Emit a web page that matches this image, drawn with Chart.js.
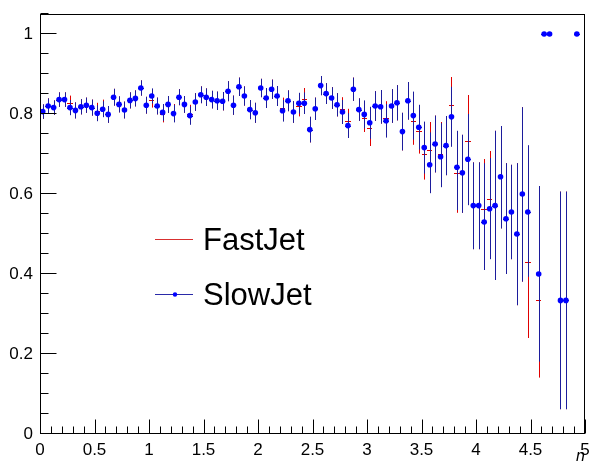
<!DOCTYPE html>
<html>
<head>
<meta charset="utf-8">
<script src="https://cdn.jsdelivr.net/npm/chart.js@4.4.1/dist/chart.umd.min.js"></script>
<style>
html,body{margin:0;padding:0;background:#fff;}
#wrap{width:590px;height:466px;}
</style>
</head>
<body>
<div id="wrap"><canvas id="effChart" width="590" height="466"></canvas></div>
<script>
// ---------------- data ----------------
const binWidth = 0.05;
const nBins = 100;

const xTicks = [0, 0.5, 1, 1.5, 2, 2.5, 3, 3.5, 4, 4.5, 5];
const xTickLabels = ["0", "0.5", "1", "1.5", "2", "2.5", "3", "3.5", "4", "4.5", "5"];
const yTicks = [0, 0.2, 0.4, 0.6, 0.8, 1];
const yTickLabels = ["0", "0.2", "0.4", "0.6", "0.8", "1"];

const seriesNames = ["FastJet", "SlowJet"];

const slowEff = [
  0.806, 0.82, 0.816, 0.836, 0.836, 0.816, 0.809, 0.818, 0.822, 0.816,
  0.802, 0.812, 0.799, 0.842, 0.824, 0.81, 0.834, 0.839, 0.865, 0.822,
  0.845, 0.82, 0.804, 0.824, 0.801, 0.842, 0.824, 0.796, 0.83, 0.848,
  0.842, 0.836, 0.833, 0.832, 0.857, 0.822, 0.868, 0.845, 0.811, 0.803,
  0.865, 0.84, 0.862, 0.845, 0.808, 0.833, 0.805, 0.827, 0.827, 0.761,
  0.813, 0.871, 0.851, 0.84, 0.823, 0.805, 0.771, 0.862, 0.811, 0.799,
  0.778, 0.82, 0.818, 0.783, 0.82, 0.828, 0.756, 0.833, 0.796, 0.767,
  0.716, 0.673, 0.725, 0.693, 0.721, 0.793, 0.667, 0.653, 0.687, 0.571,
  0.571, 0.53, 0.563, 0.571, 0.643, 0.538, 0.555, 0.5, 0.6, 0.555,
  null, 0.4, 1, 1, null, 0.334, 0.334, null, 1, null
];
const slowErrLo = [
  0.018, 0.019, 0.018, 0.018, 0.018, 0.019, 0.02, 0.019, 0.019, 0.02,
  0.02, 0.02, 0.021, 0.021, 0.02, 0.021, 0.02, 0.02, 0.019, 0.021,
  0.019, 0.021, 0.021, 0.021, 0.022, 0.02, 0.021, 0.023, 0.022, 0.021,
  0.022, 0.022, 0.023, 0.023, 0.025, 0.024, 0.023, 0.024, 0.024, 0.025,
  0.023, 0.025, 0.024, 0.025, 0.027, 0.026, 0.027, 0.026, 0.027, 0.032,
  0.028, 0.024, 0.026, 0.027, 0.029, 0.03, 0.031, 0.029, 0.028, 0.035,
  0.04, 0.037, 0.042, 0.042, 0.042, 0.044, 0.047, 0.047, 0.06, 0.056,
  0.065, 0.071, 0.071, 0.076, 0.074, 0.075, 0.107, 0.1, 0.115, 0.109,
  0.109, 0.12, 0.126, 0.186, 0.129, 0.138, 0.118, 0.178, 0.219, 0.162,
  null, 0.219, 0, 0, null, 0.272, 0.272, null, 0, null
];
const slowErrHi = [
  0.018, 0.019, 0.018, 0.018, 0.018, 0.019, 0.02, 0.019, 0.019, 0.02,
  0.02, 0.02, 0.021, 0.021, 0.02, 0.021, 0.02, 0.02, 0.019, 0.021,
  0.019, 0.021, 0.021, 0.021, 0.022, 0.02, 0.021, 0.023, 0.022, 0.021,
  0.022, 0.022, 0.023, 0.023, 0.025, 0.024, 0.023, 0.024, 0.024, 0.025,
  0.023, 0.025, 0.024, 0.025, 0.027, 0.026, 0.027, 0.026, 0.027, 0.032,
  0.028, 0.024, 0.026, 0.027, 0.029, 0.03, 0.031, 0.029, 0.028, 0.035,
  0.04, 0.037, 0.042, 0.042, 0.042, 0.044, 0.047, 0.047, 0.06, 0.056,
  0.065, 0.081, 0.071, 0.084, 0.074, 0.075, 0.091, 0.095, 0.113, 0.108,
  0.108, 0.147, 0.127, 0.187, 0.127, 0.139, 0.118, 0.177, 0.217, 0.167,
  null, 0.22, 0, 0, null, 0.272, 0.272, null, 0, null
];

const fastEff = [
  0.806, 0.82, 0.816, 0.836, 0.836, 0.827, 0.809, 0.818, 0.822, 0.816,
  0.808, 0.816, 0.799, 0.842, 0.824, 0.81, 0.834, 0.839, 0.865, 0.822,
  0.835, 0.82, 0.8, 0.824, 0.803, 0.842, 0.824, 0.8, 0.83, 0.848,
  0.842, 0.836, 0.833, 0.832, 0.857, 0.822, 0.868, 0.845, 0.811, 0.803,
  0.865, 0.84, 0.862, 0.845, 0.814, 0.833, 0.805, 0.82, 0.838, 0.761,
  0.813, 0.871, 0.851, 0.84, 0.823, 0.812, 0.782, 0.862, 0.811, 0.79,
  0.765, 0.82, 0.818, 0.79, 0.82, 0.828, 0.756, 0.833, 0.783, 0.757,
  0.701, 0.71, 0.725, 0.7, 0.721, 0.8225, 0.653, 0.653, 0.7325, 0.571,
  0.571, 0.5625, 0.5875, 0.571, 0.643, 0.538, 0.555, 0.5, 0.6, 0.429,
  null, 0.334, 1, 1, null, 0.334, 0.334, null, 1, null
];
const fastErrLo = [
  0.018, 0.019, 0.018, 0.018, 0.018, 0.019, 0.02, 0.019, 0.019, 0.02,
  0.02, 0.02, 0.021, 0.021, 0.02, 0.021, 0.02, 0.02, 0.019, 0.021,
  0.019, 0.021, 0.021, 0.021, 0.022, 0.02, 0.021, 0.023, 0.022, 0.021,
  0.022, 0.022, 0.023, 0.023, 0.025, 0.024, 0.023, 0.024, 0.024, 0.025,
  0.023, 0.025, 0.024, 0.025, 0.027, 0.026, 0.027, 0.026, 0.027, 0.032,
  0.028, 0.024, 0.026, 0.027, 0.029, 0.03, 0.031, 0.029, 0.028, 0.035,
  0.045, 0.037, 0.042, 0.042, 0.042, 0.044, 0.047, 0.047, 0.06, 0.056,
  0.065, 0.071, 0.071, 0.076, 0.074, 0.075, 0.1, 0.1, 0.115, 0.109,
  0.109, 0.14, 0.13, 0.186, 0.129, 0.138, 0.118, 0.178, 0.219, 0.189,
  null, 0.193, 0, 0, null, 0.272, 0.272, null, 0, null
];
const fastErrHi = [
  0.018, 0.019, 0.018, 0.018, 0.018, 0.019, 0.02, 0.019, 0.019, 0.02,
  0.02, 0.02, 0.021, 0.021, 0.02, 0.021, 0.02, 0.02, 0.019, 0.021,
  0.019, 0.021, 0.021, 0.021, 0.022, 0.02, 0.021, 0.023, 0.022, 0.021,
  0.022, 0.022, 0.023, 0.023, 0.025, 0.024, 0.023, 0.024, 0.024, 0.025,
  0.023, 0.025, 0.024, 0.025, 0.027, 0.026, 0.027, 0.026, 0.027, 0.032,
  0.028, 0.024, 0.026, 0.027, 0.029, 0.03, 0.031, 0.029, 0.028, 0.035,
  0.045, 0.037, 0.042, 0.042, 0.042, 0.044, 0.047, 0.047, 0.06, 0.056,
  0.065, 0.07, 0.071, 0.08, 0.074, 0.07, 0.095, 0.095, 0.115, 0.108,
  0.108, 0.125, 0.12, 0.187, 0.127, 0.139, 0.118, 0.177, 0.217, 0.19,
  null, 0.27, 0, 0, null, 0.272, 0.272, null, 0, null
];

// bin centres of the 100 bins between 0 and 5
const binCenters = Array.from({length: nBins}, (_, i) => (i + 0.5) * binWidth);

function toPoints(eff){
    const pts = [];
    eff.forEach((v, i) => {
        if (v !== null) pts.push({x: binCenters[i], y: v, i: i});
    });
    return pts;
}

// ---------------- plugins ----------------
const errorBars = {
    id: "errorBars",
    beforeDatasetDraw(chart, args){
        const ds = chart.data.datasets[args.index];
        const xs = chart.scales.x, ys = chart.scales.y;
        const area = chart.chartArea;
        const ctx = chart.ctx;
        ctx.save();
        ctx.beginPath();
        ctx.rect(area.left, area.top, area.right - area.left, area.bottom - area.top);
        ctx.clip();
        ctx.strokeStyle = ds.errColor;
        ctx.lineWidth = 1;
        ds.data.forEach(p => {
            const lo = ds.errLo[p.i], hi = ds.errHi[p.i];
            const px = Math.round(xs.getPixelForValue(p.x)) + 0.5;
            const py = Math.round(ys.getPixelForValue(p.y)) + 0.5;
            ctx.beginPath();
            ctx.moveTo(Math.round(xs.getPixelForValue(p.x - binWidth / 2)), py);
            ctx.lineTo(Math.round(xs.getPixelForValue(p.x + binWidth / 2)), py);
            if (lo > 0 || hi > 0){
                ctx.moveTo(px, ys.getPixelForValue(p.y - lo));
                ctx.lineTo(px, ys.getPixelForValue(p.y + hi));
            }
            ctx.stroke();
        });
        ctx.restore();
    }
};

const rootFrame = {
    id: "rootFrame",
    afterDraw(chart){
        const ctx = chart.ctx;
        const a = chart.chartArea;
        const xs = chart.scales.x, ys = chart.scales.y;
        ctx.save();
        ctx.strokeStyle = "#000";
        ctx.lineWidth = 1;
        const L = Math.round(a.left) + 0.5, R = Math.round(a.right) - 0.5;
        const T = Math.round(a.top) + 0.5, B = Math.round(a.bottom) - 0.5;
        ctx.strokeRect(L, T, R - L, B - T);

        // y ticks, inward
        ctx.beginPath();
        for (let k = 0; k <= 21; k++){
            const y = Math.round(ys.getPixelForValue(k * 0.05)) - 0.5;
            const len = (k % 4 === 0) ? 16 : 8;
            ctx.moveTo(L, y);
            ctx.lineTo(L + len, y);
        }
        // x ticks, inward
        for (let k = 0; k <= 50; k++){
            const x = Math.round(xs.getPixelForValue(k * 0.1)) + 0.5;
            const len = (k % 5 === 0) ? 14 : 7;
            ctx.moveTo(x, B);
            ctx.lineTo(x, B - len);
        }
        ctx.stroke();

        // legend
        ctx.font = "31px 'Liberation Sans', Arial, sans-serif";
        ctx.textBaseline = "middle";
        ctx.fillStyle = "#000";

        ctx.strokeStyle = "#d83030";
        ctx.beginPath();
        ctx.moveTo(155, 239.5);
        ctx.lineTo(193, 239.5);
        ctx.stroke();
        ctx.fillText(seriesNames[0], 203, 241);

        ctx.strokeStyle = "#2a2aa8";
        ctx.beginPath();
        ctx.moveTo(155, 294.5);
        ctx.lineTo(193, 294.5);
        ctx.stroke();
        ctx.fillStyle = "#0000ff";
        ctx.beginPath();
        ctx.arc(175, 294.5, 2.2, 0, Math.PI * 2);
        ctx.fill();
        ctx.fillStyle = "#000";
        ctx.fillText(seriesNames[1], 203, 296);
        ctx.restore();
    }
};

// ---------------- chart ----------------
Chart.defaults.font.family = "'Liberation Sans', Arial, sans-serif";
Chart.defaults.color = "#000";

new Chart(document.getElementById("effChart"), {
    type: "scatter",
    data: {
        datasets: [
            {
                label: seriesNames[1],
                data: toPoints(slowEff),
                errLo: slowErrLo,
                errHi: slowErrHi,
                errColor: "#1c1c9c",
                pointRadius: 2.8,
                pointBackgroundColor: "#0000ff",
                pointBorderWidth: 0,
                showLine: false
            },
            {
                label: seriesNames[0],
                data: toPoints(fastEff),
                errLo: fastErrLo,
                errHi: fastErrHi,
                errColor: "#e00000",
                pointRadius: 0,
                showLine: false
            }
        ]
    },
    options: {
        responsive: false,
        animation: false,
        devicePixelRatio: 1,
        layout: { padding: { top: 14, right: 5, left: 0, bottom: 0 } },
        plugins: { legend: { display: false }, tooltip: { enabled: false } },
        scales: {
            x: {
                type: "linear",
                min: 0,
                max: 5,
                afterBuildTicks: s => { s.ticks = xTicks.map(v => ({value: v})); },
                afterFit: s => { s.height = 32; s.paddingLeft = 0; s.paddingRight = 0; },
                ticks: {
                    callback: (v, idx) => xTickLabels[idx],
                    font: { size: 17 },
                    padding: 6,
                    maxRotation: 0,
                    autoSkip: false
                },
                grid: { display: false, drawTicks: false },
                border: { display: false },
                title: {
                    display: true,
                    text: "n",
                    align: "end",
                    font: { size: 16, style: "italic" },
                    padding: { top: 0, bottom: 0 }
                }
            },
            y: {
                min: 0,
                max: 1.05,
                afterBuildTicks: s => { s.ticks = yTicks.map(v => ({value: v})); },
                afterFit: s => { s.width = 40; s.paddingTop = 0; s.paddingBottom = 0; },
                ticks: {
                    callback: (v, idx) => yTickLabels[idx],
                    font: { size: 17 },
                    padding: 7,
                    autoSkip: false
                },
                grid: { display: false, drawTicks: false },
                border: { display: false }
            }
        }
    },
    plugins: [errorBars, rootFrame]
});
</script>
</body>
</html>
